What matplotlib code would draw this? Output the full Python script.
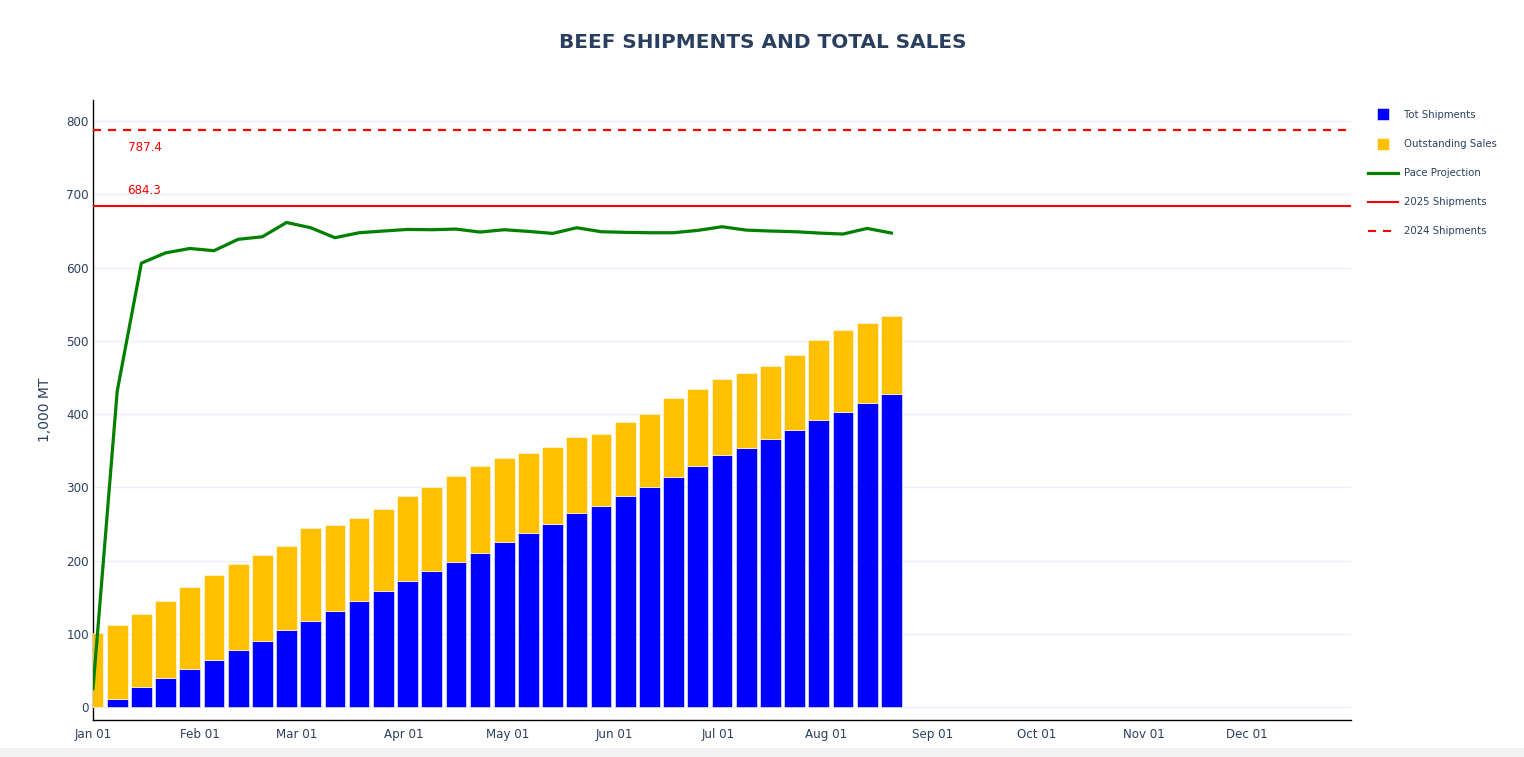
import matplotlib
matplotlib.use("Agg")
import matplotlib.pyplot as plt
import matplotlib.dates as mdates
from matplotlib.lines import Line2D
from matplotlib.patches import Rectangle
import pandas as pd
import numpy as np

# ---- data ----
week_start = "2025-01-01"
n_weeks = 34
tot_shipments = [0.0, 10.9, 26.9, 39.2, 52.0, 63.8, 77.5, 90.2, 105.3, 117.6, 130.8, 144.5,
                 158.2, 171.8, 185.5, 198.3, 210.1, 225.0, 237.5, 249.8, 264.8, 274.4, 288.1,
                 300.4, 314.0, 329.1, 344.1, 354.1, 366.5, 378.8, 392.0, 402.9, 415.2, 427.5]
outstanding_sales = [101.2, 101.2, 100.7, 105.7, 112.5, 116.7, 117.1, 117.6, 113.9, 127.2, 117.2,
                     113.9, 112.5, 115.8, 114.4, 117.6, 119.4, 114.4, 109.8, 105.7, 103.9, 98.9,
                     101.1, 100.2, 107.6, 104.8, 103.5, 101.7, 98.9, 101.6, 108.5, 111.7, 109.0, 105.8]
pace_projection = [25, 431, 606, 620, 626, 623, 638.5, 642, 661.5, 654.3, 640.7, 647.5, 649.8,
                   652, 651.6, 652.5, 648.4, 651.6, 649.3, 646.6, 654.3, 648.9, 648, 647.5, 647.5,
                   650.7, 655.7, 651.1, 649.8, 648.9, 647.1, 645.7, 653.4, 647.1]
shipments_2025 = 684.3
shipments_2024 = 787.4
y_ticks = [0, 100, 200, 300, 400, 500, 600, 700, 800]
x_start, x_end = "2025-01-01", "2025-12-31"

dates = pd.date_range(week_start, periods=n_weeks, freq="7D")

TXT = "#2a3f5f"
GRID = "#ebf0f8"
plt.rcParams["font.family"] = ["DejaVu Sans"]
plt.rcParams["lines.scale_dashes"] = False

W, H = 1524, 757
fig = plt.figure(figsize=(W / 100, H / 100), dpi=100)
ax = fig.add_axes([93 / W, 1 - 720 / H, (1351 - 93) / W, (720 - 100) / H])

xnum = mdates.date2num(dates)
bw = 6.0
ax.bar(xnum, tot_shipments, width=bw, color="#0000ff", edgecolor="white", linewidth=0.4,
       zorder=3, label="Tot Shipments")
ax.bar(xnum, outstanding_sales, bottom=tot_shipments, width=bw, color="#ffc000",
       edgecolor="white", linewidth=0.4, zorder=3, label="Outstanding Sales")
ax.plot(xnum, pace_projection, color="#008000", linewidth=2.3, zorder=5, solid_joinstyle="round")
ax.axhline(shipments_2025, color="#ff0000", linewidth=1.5, zorder=4)
ax.axhline(shipments_2024, color="#ff0000", linewidth=1.6, dashes=(5.8, 5.0), zorder=4)

lab_x = mdates.date2num(pd.Timestamp("2025-01-11"))
ax.annotate(f"{shipments_2024}", xy=(lab_x, shipments_2024), xytext=(0, -12.6),
            textcoords="offset points", color="#ff0000", fontsize=8.6, ha="left", va="center")
ax.annotate(f"{shipments_2025}", xy=(lab_x, shipments_2025), xytext=(0, 11.1),
            textcoords="offset points", color="#ff0000", fontsize=8.6, ha="left", va="center")

ax.set_xlim(mdates.date2num(pd.Timestamp(x_start)), mdates.date2num(pd.Timestamp(x_end)))
ax.set_ylim(-17.7, 828.7)
ax.set_yticks(y_ticks)
ax.xaxis.set_major_locator(mdates.MonthLocator())
ax.xaxis.set_major_formatter(mdates.DateFormatter("%b %d"))
ax.tick_params(axis="both", length=0, colors=TXT, labelsize=8.6)
ax.tick_params(axis="x", pad=6)
ax.tick_params(axis="y", pad=3)
ax.grid(axis="y", color=GRID, linewidth=1, zorder=0)
ax.set_axisbelow(True)
for s in ["top", "right"]:
    ax.spines[s].set_visible(False)
for s in ["left", "bottom"]:
    ax.spines[s].set_color("black")
    ax.spines[s].set_linewidth(1)
ax.set_ylabel("1,000 MT", color=TXT, fontsize=10, labelpad=10)

fig.text(763 / W, 1 - 43 / H, "BEEF SHIPMENTS AND TOTAL SALES", ha="center", va="center",
         fontsize=14.4, fontweight="bold", color=TXT)

handles = [
    Line2D([], [], linestyle="none", marker="s", markersize=8.5, markerfacecolor="#0000ff",
           markeredgecolor="white", markeredgewidth=0.4),
    Line2D([], [], linestyle="none", marker="s", markersize=8.5, markerfacecolor="#ffc000",
           markeredgecolor="white", markeredgewidth=0.4),
    Line2D([], [], color="#008000", linewidth=2.3),
    Line2D([], [], color="#ff0000", linewidth=1.5),
    Line2D([], [], color="#ff0000", linewidth=1.5, dashes=(5.8, 5.0)),
]
labels = ["Tot Shipments", "Outstanding Sales", "Pace Projection", "2025 Shipments", "2024 Shipments"]
leg = fig.legend(handles, labels, loc="upper left", bbox_to_anchor=(1368 / W, 1 - 110 / H),
                 frameon=False, fontsize=7.3, labelcolor=TXT, handlelength=3.0,
                 handletextpad=0.6, labelspacing=1.88, borderaxespad=0, borderpad=0)

fig.patches.append(Rectangle((0, 0), 1, 9 / H, transform=fig.transFigure,
                             facecolor="#f3f3f3", edgecolor="none", zorder=-1))

fig.savefig("out.png", dpi=100, facecolor="white")
